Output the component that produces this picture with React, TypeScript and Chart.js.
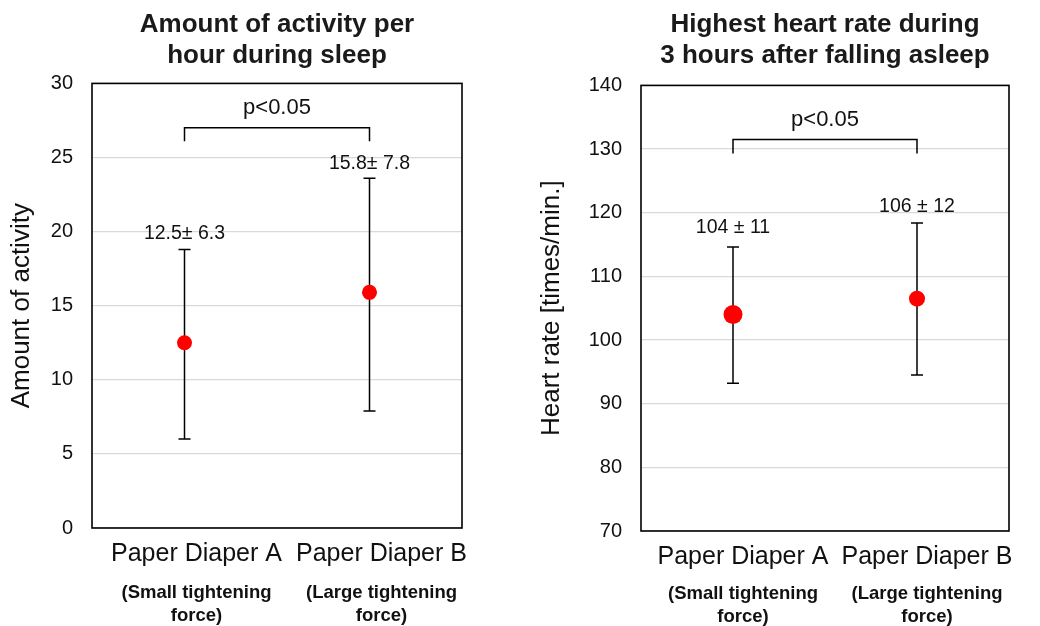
import React, { useEffect, useRef } from "react";
import { Chart, registerables } from "chart.js";

Chart.register(...registerables);

// ---------- data ----------
const categories = ["Paper Diaper A", "Paper Diaper B"];
const subLabels = [
  ["(Small tightening", "force)"],
  ["(Large tightening", "force)"],
];

const activityMean = [12.5, 15.9];
const activityLow = [6.0, 7.9];
const activityHigh = [18.8, 23.6];
const activityText = ["12.5\u00b1 6.3", "15.8\u00b1 7.8"];
const activityBracket = [27.0, 26.1]; // bar level, foot level
const activityTicks = { min: 0, max: 30, step: 5 };

const heartMean = [104.0, 106.5];
const heartLow = [93.2, 94.5];
const heartHigh = [114.6, 118.4];
const heartText = ["104 \u00b1 11", "106 \u00b1 12"];
const heartBracket = [131.5, 129.3];
const heartTicks = { min: 70, max: 140, step: 10 };

const pText = "p<0.05";

const SANS = "'Liberation Sans', Arial, sans-serif";

const annotPlugin = {
  id: "annot",
  beforeDatasetsDraw(chart: any, _args: any, opts: any) {
    const ctx = chart.ctx;
    const xs = chart.scales.x;
    const ys = chart.scales.y;
    const a = chart.chartArea;
    ctx.save();
    // plot frame
    ctx.strokeStyle = "#000";
    ctx.lineWidth = 1.6;
    ctx.strokeRect(a.left, a.top, a.right - a.left, a.bottom - a.top);
    // error bars
    ctx.lineWidth = 1.5;
    for (let i = 0; i < opts.low.length; i++) {
      const x = xs.getPixelForValue(i);
      const yl = ys.getPixelForValue(opts.low[i]);
      const yh = ys.getPixelForValue(opts.high[i]);
      ctx.beginPath();
      ctx.moveTo(x, yl);
      ctx.lineTo(x, yh);
      ctx.moveTo(x - 6, yl);
      ctx.lineTo(x + 6, yl);
      ctx.moveTo(x - 6, yh);
      ctx.lineTo(x + 6, yh);
      ctx.stroke();
      // value label
      ctx.fillStyle = "#111";
      ctx.font = `19.5px ${SANS}`;
      ctx.textAlign = "center";
      ctx.textBaseline = "middle";
      ctx.fillText(opts.text[i], x, yh - opts.labelGap[i]);
    }
    // significance bracket
    const x0 = xs.getPixelForValue(0);
    const x1 = xs.getPixelForValue(1);
    const yb = ys.getPixelForValue(opts.bracket[0]);
    const yf = ys.getPixelForValue(opts.bracket[1]);
    ctx.beginPath();
    ctx.moveTo(x0, yf);
    ctx.lineTo(x0, yb);
    ctx.lineTo(x1, yb);
    ctx.lineTo(x1, yf);
    ctx.stroke();
    ctx.fillStyle = "#111";
    ctx.font = `22px ${SANS}`;
    ctx.textAlign = "center";
    ctx.textBaseline = "middle";
    ctx.fillText(opts.p, (x0 + x1) / 2, yb - 20);
    ctx.restore();
  },
};

function makeConfig(p: any) {
  return {
    type: "line",
    data: {
      labels: categories,
      datasets: [
        {
          data: p.mean,
          showLine: false,
          pointRadius: p.radius,
          pointHoverRadius: p.radius,
          pointBackgroundColor: "#ff0000",
          pointBorderWidth: 0,
          borderColor: "#ff0000",
        },
      ],
    },
    options: {
      responsive: false,
      animation: false,
      layout: { padding: { left: 0, right: p.padRight, top: 0, bottom: 0 } },
      plugins: {
        legend: { display: false },
        tooltip: { enabled: false },
        title: {
          display: true,
          text: p.title,
          fullSize: false,
          color: "#1a1a1a",
          font: { size: 26, weight: "bold", family: SANS, lineHeight: 1.2 },
          padding: { top: p.titleTop, bottom: p.titleBottom },
        },
        annot: {
          low: p.low,
          high: p.high,
          text: p.text,
          labelGap: p.labelGap,
          bracket: p.bracket,
          p: pText,
        },
      },
      scales: {
        x: {
          type: "category",
          offset: true,
          afterFit: (s: any) => {
            s.height = p.xHeight;
          },
          grid: { display: false, drawTicks: false },
          border: { display: false },
          ticks: {
            color: "#111",
            padding: 12,
            maxRotation: 0,
            autoSkip: false,
            labelOffset: p.labelShift,
            font: { size: 25, family: SANS, lineHeight: 1.1 },
          },
        },
        x2: {
          type: "category",
          position: "bottom",
          labels: subLabels,
          offset: true,
          afterFit: (s: any) => {
            s.height = p.x2Height;
          },
          grid: { display: false, drawTicks: false },
          border: { display: false },
          ticks: {
            color: "#111",
            padding: p.subPad,
            maxRotation: 0,
            autoSkip: false,
            labelOffset: p.labelShift,
            font: { size: 18.5, weight: "bold", family: SANS, lineHeight: 1.25 },
          },
        },
        y: {
          min: p.ticks.min,
          max: p.ticks.max,
          afterFit: (s: any) => {
            s.width = p.yWidth;
          },
          grid: { color: "#d9d9d9", lineWidth: 1.2, drawTicks: false },
          border: { display: false },
          ticks: {
            stepSize: p.ticks.step,
            color: "#111",
            padding: 19,
            font: { size: 20, family: SANS },
          },
          title: {
            display: true,
            text: p.yTitle,
            color: "#111",
            font: { size: 26, family: SANS, lineHeight: 1.2 },
            padding: { top: p.yTitlePad, bottom: 0 },
          },
        },
      },
    },
    plugins: [annotPlugin],
  };
}

function Panel({ left, params }: { left: number; params: any }) {
  const ref = useRef<HTMLCanvasElement | null>(null);
  useEffect(() => {
    if (!ref.current) return;
    const chart = new Chart(ref.current, makeConfig(params) as any);
    return () => chart.destroy();
  }, []);
  return (
    <div style={{ position: "absolute", left, top: 0, width: 520, height: 626 }}>
      <canvas ref={ref} width={520} height={626} />
    </div>
  );
}

const leftParams = {
  title: ["Amount of activity per", "hour during sleep"],
  yTitle: "Amount of activity",
  mean: activityMean,
  low: activityLow,
  high: activityHigh,
  text: activityText,
  bracket: activityBracket,
  ticks: activityTicks,
  radius: [7.5, 7.5],
  labelGap: [16, 15],
  padRight: 58,
  yWidth: 92,
  yTitlePad: 6,
  titleTop: 9,
  titleBottom: 12,
  xHeight: 38,
  x2Height: 60,
  subPad: 15,
  labelShift: 12,
};

const rightParams = {
  title: ["Highest heart rate during", "3 hours after falling asleep"],
  yTitle: "Heart rate [times/min.]",
  mean: heartMean,
  low: heartLow,
  high: heartHigh,
  text: heartText,
  bracket: heartBracket,
  ticks: heartTicks,
  radius: [9.5, 8],
  labelGap: [19, 16],
  padRight: 31,
  yWidth: 121,
  yTitlePad: 16,
  titleTop: 9,
  titleBottom: 14,
  xHeight: 38,
  x2Height: 57,
  subPad: 13,
  labelShift: 10,
};

export default function App() {
  return (
    <div style={{ position: "absolute", left: 0, top: 0, width: 1040, height: 626, background: "#fff" }}>
      <Panel left={0} params={leftParams} />
      <Panel left={520} params={rightParams} />
    </div>
  );
}
